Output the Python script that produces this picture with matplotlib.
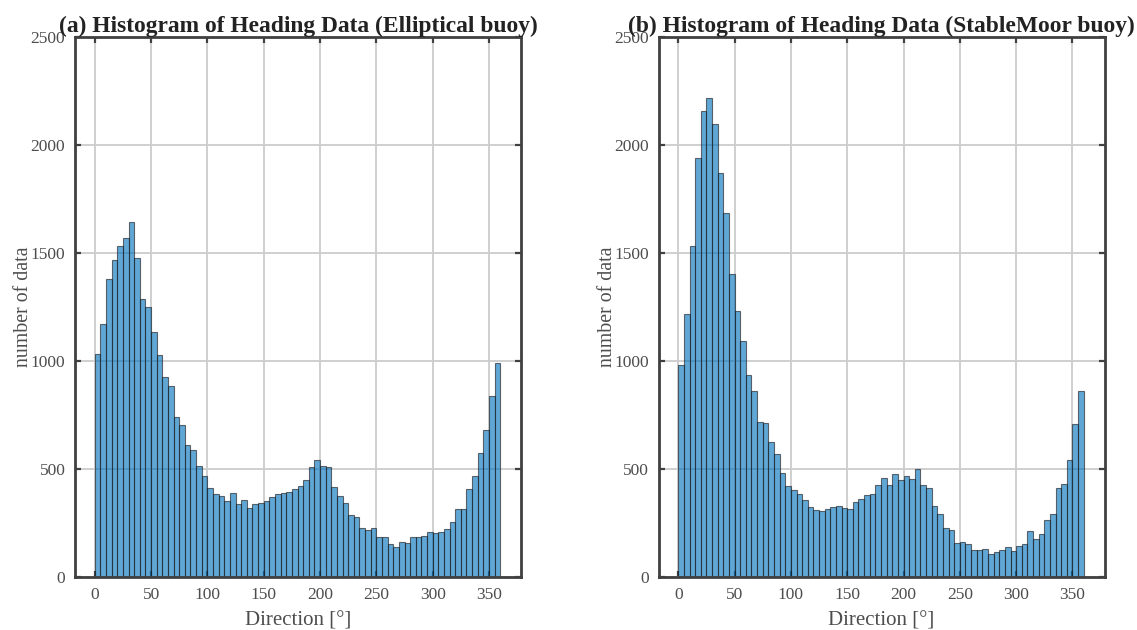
from matplotlib import pyplot as plt
import numpy as np

plt.rcParams['font.family'] = ['Liberation Serif', 'DejaVu Serif']

# 72 bins of 5 deg, 0..360
bin_edges = np.arange(0, 365, 5)

counts_elliptical = [1034, 1173, 1378, 1467, 1535, 1572, 1642, 1475, 1288, 1248,
                     1136, 1026, 926, 883, 739, 705, 609, 588, 512, 466,
                     414, 384, 377, 352, 388, 338, 358, 319, 339, 342,
                     352, 370, 386, 391, 394, 406, 420, 447, 511, 544,
                     516, 511, 416, 375, 342, 289, 277, 225, 216, 228,
                     183, 187, 155, 141, 164, 159, 183, 183, 189, 209,
                     206, 207, 223, 254, 313, 313, 406, 467, 574, 683,
                     839, 991]

counts_stablemoor = [981, 1218, 1535, 1940, 2159, 2219, 2096, 1872, 1686, 1405,
                     1233, 1094, 935, 861, 716, 714, 626, 570, 482, 420,
                     403, 384, 356, 324, 311, 305, 314, 322, 327, 319,
                     316, 347, 361, 380, 384, 427, 459, 427, 478, 450,
                     469, 455, 502, 428, 413, 328, 291, 225, 219, 158,
                     161, 153, 124, 124, 132, 107, 116, 124, 138, 119,
                     144, 153, 212, 175, 200, 265, 291, 412, 430, 542,
                     709, 861]

titles = ['(a) Histogram of Heading Data (Elliptical buoy)',
          '(b) Histogram of Heading Data (StableMoor buoy)']
xticks = [0, 50, 100, 150, 200, 250, 300, 350]
yticks = [0, 500, 1000, 1500, 2000, 2500]

fig = plt.figure(figsize=(11.37, 6.30), dpi=100)
ax_a = fig.add_axes([0.066, 0.0841, 0.3923, 0.857])
ax_b = fig.add_axes([0.5792, 0.0841, 0.3923, 0.857])

for ax, counts, title in zip([ax_a, ax_b], [counts_elliptical, counts_stablemoor], titles):
    ax.hist(bin_edges[:-1], bins=bin_edges, weights=counts,
            color='#0072BD', alpha=0.62, edgecolor='#1a1a1a', linewidth=0.8)
    ax.set_xlim(-17.5, 378.5)
    ax.set_ylim(0, 2500)
    ax.set_xticks(xticks)
    ax.set_yticks(yticks)
    ax.set_axisbelow(True)
    ax.grid(True, color='#cccccc', linewidth=1.3)
    ax.tick_params(direction='in', top=True, right=True, length=4, width=1.6,
                   color='#404040', labelcolor='#4d4d4d', labelsize=12.5, pad=7)
    for sp in ax.spines.values():
        sp.set_color('#404040')
        sp.set_linewidth(2)
    ax.set_xlabel('Direction [°]', fontsize=15, color='#4d4d4d', labelpad=6.5)
    ax.set_ylabel('number of data', fontsize=14.3, color='#4d4d4d', labelpad=-2)
    ax.set_title(title, fontsize=16.9, fontweight='bold', color='#222222', pad=4)

plt.savefig('out.png', dpi=100)
